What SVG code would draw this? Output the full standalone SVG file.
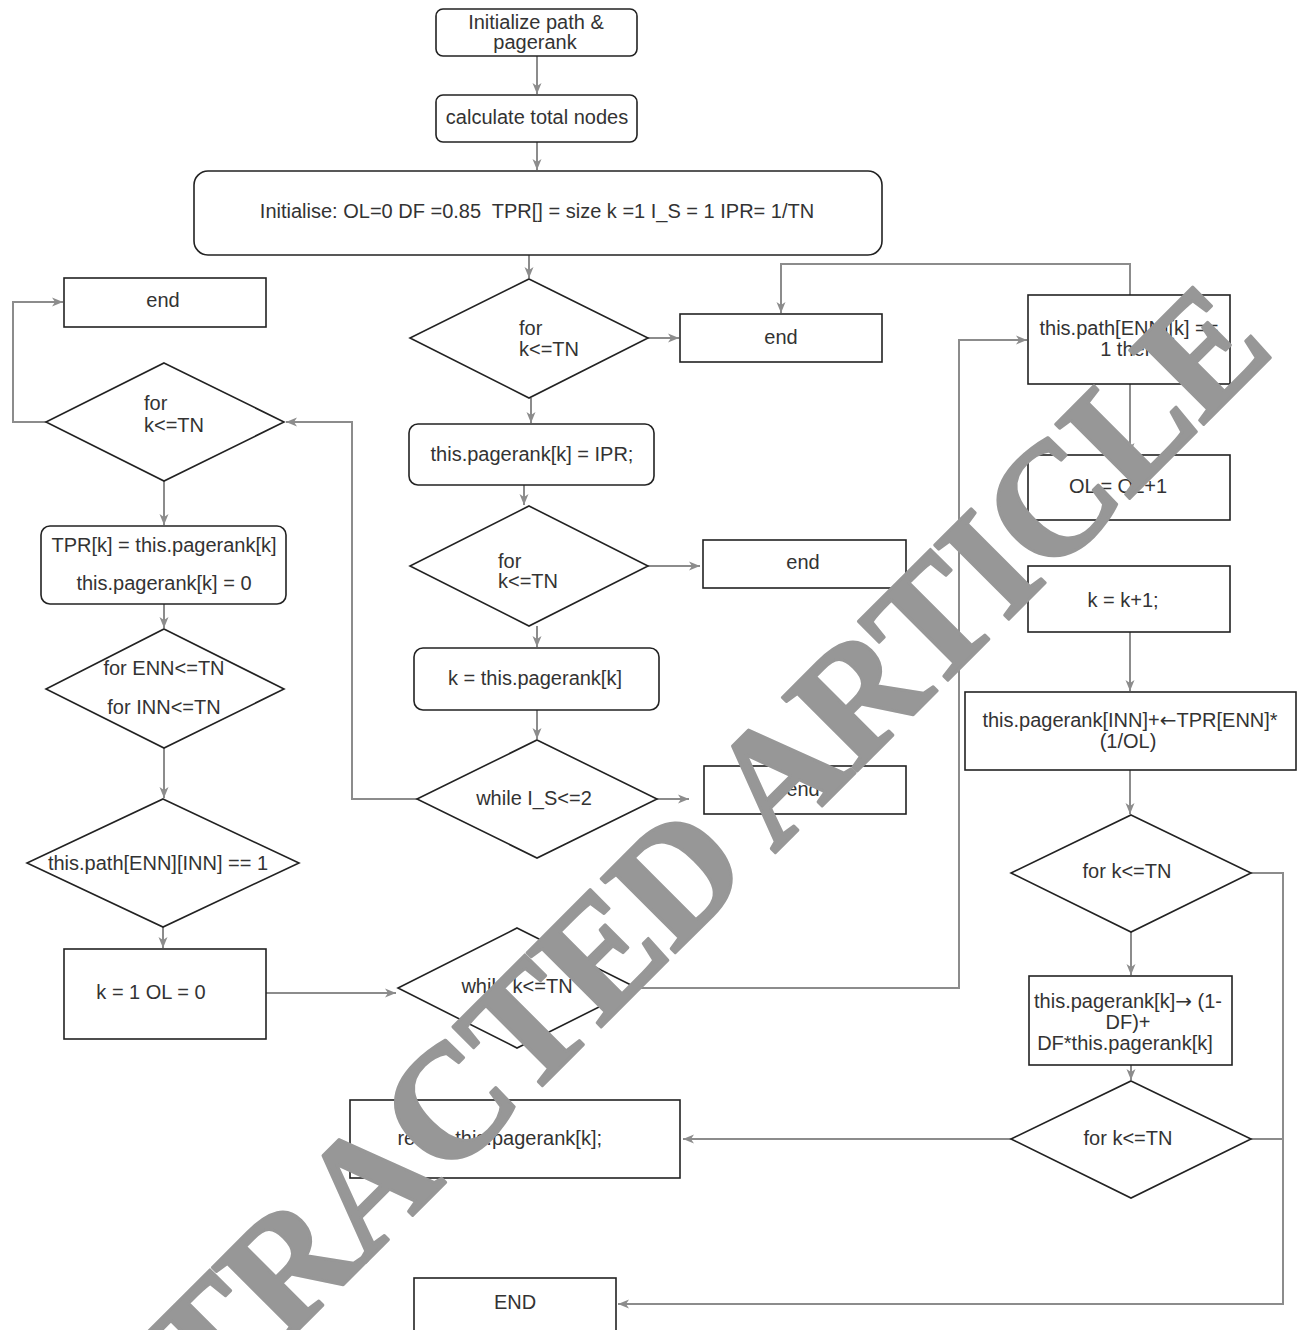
<svg xmlns="http://www.w3.org/2000/svg" width="1306" height="1330" viewBox="0 0 1306 1330">
<defs>
<style>
.n{fill:#fff;stroke:#222;stroke-width:1.6}
.t{font-family:"Liberation Sans",Arial,sans-serif;font-size:20px;fill:#333}
.m{text-anchor:middle}
.ar{font-family:"DejaVu Sans",sans-serif}
.c{fill:none;stroke:#8c8c8c;stroke-width:2}
.wm{font-family:"Liberation Serif","Times New Roman",serif;font-weight:bold;font-size:160px;fill:#979797;stroke:#979797;stroke-width:3;stroke-linejoin:round;letter-spacing:-2px}
</style>
<marker id="ar" markerUnits="userSpaceOnUse" markerWidth="12" markerHeight="10" refX="11" refY="5" orient="auto">
<path d="M0,0.5 L11,5 L0,9.5 L3,5 z" fill="#8c8c8c"/>
</marker>
</defs>
<rect width="1306" height="1330" fill="#fff"/>
<g id="connectors">
<path class="c" marker-end="url(#ar)" d="M537,56 V94"/>
<path class="c" marker-end="url(#ar)" d="M537,142 V170"/>
<path class="c" marker-end="url(#ar)" d="M529,255 V278"/>
<path class="c" marker-end="url(#ar)" d="M648,338 H679"/>
<path class="c" marker-end="url(#ar)" d="M1130,295 V264 H781 V313"/>
<path class="c" marker-end="url(#ar)" d="M531,398 V423"/>
<path class="c" marker-end="url(#ar)" d="M524,485 V505"/>
<path class="c" marker-end="url(#ar)" d="M648,566 H700"/>
<path class="c" marker-end="url(#ar)" d="M537,626 V647"/>
<path class="c" marker-end="url(#ar)" d="M537,710 V739"/>
<path class="c" marker-end="url(#ar)" d="M657,799 H689"/>
<path class="c" marker-end="url(#ar)" d="M417,799 H352 V422 H286"/>
<path class="c" marker-end="url(#ar)" d="M46,422 H13 V302 H63"/>
<path class="c" marker-end="url(#ar)" d="M164,481 V525"/>
<path class="c" marker-end="url(#ar)" d="M164,604 V628"/>
<path class="c" marker-end="url(#ar)" d="M164,748 V798"/>
<path class="c" marker-end="url(#ar)" d="M163,927 V948"/>
<path class="c" marker-end="url(#ar)" d="M266,993 H396"/>
<path class="c" marker-end="url(#ar)" d="M637,988 H959 V340 H1027"/>
<path class="c" marker-end="url(#ar)" d="M1130,384 V454"/>
<path class="c" marker-end="url(#ar)" d="M1130,632 V691"/>
<path class="c" marker-end="url(#ar)" d="M1130,770 V814"/>
<path class="c" marker-end="url(#ar)" d="M1131,932 V975"/>
<path class="c" marker-end="url(#ar)" d="M1131,1065 V1080"/>
<path class="c" marker-end="url(#ar)" d="M1011,1139 H683"/>
<path class="c" marker-end="url(#ar)" d="M1251,873 H1283 V1304 H618"/>
<path class="c" d="M1251,1139 H1283"/>
</g>
<g id="n1"><rect class="n" x="436" y="9" width="201" height="47" rx="7"/><text class="t m" x="536" y="29">Initialize path &amp;</text><text class="t m" x="535" y="49">pagerank</text></g>
<g id="n2"><rect class="n" x="436" y="95" width="201" height="47" rx="7"/><text class="t m" x="537" y="124">calculate total nodes</text></g>
<g id="n3"><rect class="n" x="194" y="171" width="688" height="84" rx="14"/><text class="t m" x="537" y="218" style="white-space:pre">Initialise: OL=0 DF =0.85  TPR[] = size k =1 I_S = 1 IPR= 1/TN</text></g>
<g id="d1"><polygon class="n" points="529,279 648,338 529,398 410,338"/><text class="t" x="519" y="335">for</text><text class="t" x="519" y="356">k&lt;=TN</text></g>
<g id="e1"><rect class="n" x="680" y="314" width="202" height="48"/><text class="t m" x="781" y="344">end</text></g>
<g id="n4"><rect class="n" x="409" y="424" width="245" height="61" rx="9"/><text class="t m" x="532" y="461">this.pagerank[k] = IPR;</text></g>
<g id="d2"><polygon class="n" points="529,506 648,566 529,626 410,566"/><text class="t" x="498" y="568">for</text><text class="t" x="498" y="588">k&lt;=TN</text></g>
<g id="e2"><rect class="n" x="703" y="540" width="203" height="48"/><text class="t m" x="803" y="569">end</text></g>
<g id="n5"><rect class="n" x="414" y="648" width="245" height="62" rx="9"/><text class="t m" x="535" y="685">k = this.pagerank[k]</text></g>
<g id="d3"><polygon class="n" points="537,740 657,799 537,858 417,799"/><text class="t m" x="534" y="805">while I_S&lt;=2</text></g>
<g id="e3"><rect class="n" x="704" y="766" width="202" height="48"/><text class="t m" x="803" y="796">end</text></g>
<g id="e4"><rect class="n" x="64" y="278" width="202" height="49"/><text class="t m" x="163" y="307">end</text></g>
<g id="d4"><polygon class="n" points="164,363 284,422 164,481 46,422"/><text class="t" x="144" y="410">for</text><text class="t" x="144" y="432">k&lt;=TN</text></g>
<g id="n6"><rect class="n" x="41" y="526" width="245" height="78" rx="9"/><text class="t m" x="164" y="552">TPR[k] = this.pagerank[k]</text><text class="t m" x="164" y="590">this.pagerank[k] = 0</text></g>
<g id="d5"><polygon class="n" points="164,629 284,689 164,748 46,689"/><text class="t m" x="164" y="675">for ENN&lt;=TN</text><text class="t m" x="164" y="714">for INN&lt;=TN</text></g>
<g id="d6"><polygon class="n" points="163,799 299,863 163,927 27,863"/><text class="t m" x="158" y="870">this.path[ENN][INN] == 1</text></g>
<g id="n7"><rect class="n" x="64" y="949" width="202" height="90"/><text class="t m" x="151" y="999">k = 1 OL = 0</text></g>
<g id="d7"><polygon class="n" points="517,928 637,988 517,1048 398,988"/><text class="t m" x="517" y="993">while k&lt;=TN</text></g>
<g id="n8"><rect class="n" x="350" y="1100" width="330" height="78"/><text class="t" x="602" y="1145" text-anchor="end">return this.pagerank[k];</text></g>
<g id="end"><rect class="n" x="414" y="1278" width="202" height="60"/><text class="t m" x="515" y="1309">END</text></g>
<g id="p1"><rect class="n" x="1028" y="295" width="202" height="89"/><text class="t m" x="1129" y="335">this.path[ENN][k] ==</text><text class="t m" x="1128" y="356">1 then</text></g>
<g id="p2"><rect class="n" x="1028" y="455" width="202" height="65"/><text class="t m" x="1118" y="493">OL = OL+1</text></g>
<g id="p3"><rect class="n" x="1028" y="566" width="202" height="66"/><text class="t m" x="1123" y="607">k = k+1;</text></g>
<g id="p4"><rect class="n" x="965" y="692" width="331" height="78"/><text class="t m" x="1130" y="727">this.pagerank[INN]+<tspan class="ar">←</tspan>TPR[ENN]*</text><text class="t m" x="1128" y="748">(1/OL)</text></g>
<g id="d8"><polygon class="n" points="1131,815 1251,873 1131,932 1011,873"/><text class="t m" x="1127" y="878">for k&lt;=TN</text></g>
<g id="p5"><rect class="n" x="1029" y="976" width="203" height="89"/><text class="t m" x="1128" y="1008">this.pagerank[k]<tspan class="ar">→</tspan> (1-</text><text class="t m" x="1128" y="1029">DF)+</text><text class="t m" x="1125" y="1050">DF*this.pagerank[k]</text></g>
<g id="d9"><polygon class="n" points="1131,1081 1251,1139 1131,1198 1011,1139"/><text class="t m" x="1128" y="1145">for k&lt;=TN</text></g>
<text class="wm" transform="translate(56,1572) rotate(-45)">RETRACTED ARTICLE</text>
</svg>
